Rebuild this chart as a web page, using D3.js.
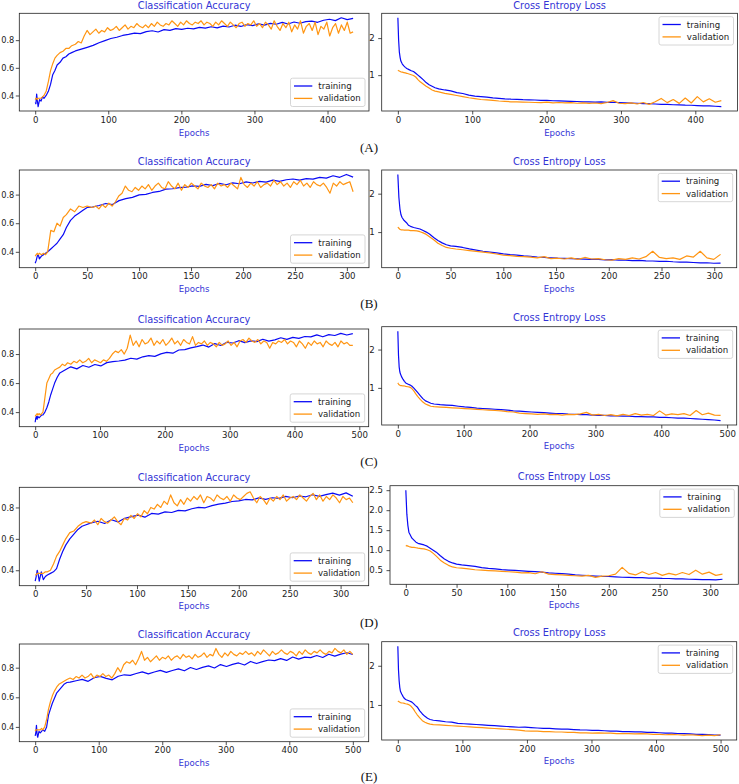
<!DOCTYPE html>
<html><head><meta charset="utf-8">
<script src="https://cdn.jsdelivr.net/npm/d3@7/dist/d3.min.js"></script>
<style>
html,body{margin:0;padding:0;background:#fff;}
svg{display:block;}
text{font-family:"DejaVu Sans",sans-serif;}
</style></head>
<body>
<svg id="chart" width="739" height="784"></svg>
<script>
// ---------------- DATA ----------------
const panelNames = ["A","B","C","D","E"];
const earlyEpochs = [0,1,2,3,4,6,8,10,12,15,18,21,24,27,30,34,38,42,46,50];
const lastEpoch = {A:435, B:306, C:490, D:312, E:500};
const xTicks = {
  A:[0,100,200,300,400], B:[0,50,100,150,200,250,300], C:[0,100,200,300,400,500],
  D:[0,50,100,150,200,250,300], E:[0,100,200,300,400,500]
};
const yTicksAcc = [0.4,0.6,0.8];
const yTicksLoss = [1,2];
const yTicksLossD = [0.5,1.0,1.5,2.0,2.5];
const seriesNames = ["training","validation"];
const titles = ["Classification Accuracy","Cross Entropy Loss"];
const xLabel = "Epochs";

const accTrainA = [0.35,0.34,0.41,0.36,0.32,0.37,0.36,0.39,0.38,0.40,0.43,0.48,0.55,0.58,0.62,0.64,0.67,0.68,0.70,0.71,
 0.722,0.735,0.748,0.762,0.781,0.797,0.812,0.821, 0.834,0.842,0.851,0.847,0.862,0.868,0.859,0.876,
 0.871,0.883,0.878,0.886,0.881,0.892,0.887,0.897, 0.889,0.901,0.895,0.908,0.899,0.912,0.905,0.918,
 0.909,0.921,0.915,0.928,0.917,0.931,0.922,0.934, 0.938,0.929,0.944,0.951,0.941,0.962,0.948,0.958];
const accValA = [0.37,0.38,0.38,0.37,0.38,0.38,0.38,0.39,0.40,0.43,0.50,0.58,0.63,0.67,0.69,0.71,0.72,0.74,0.74,0.76,
 0.77,0.79,0.78,0.83,0.87,0.84,0.86,0.88,0.85,0.87,0.86,0.89,
 0.87,0.88,0.90,0.87,0.89,0.91,0.88,0.90,0.89,0.92,0.90,0.89,
 0.91,0.89,0.92,0.90,0.93,0.91,0.90,0.92,0.91,0.94,0.92,0.90,
 0.93,0.91,0.94,0.92,0.91,0.93,0.92,0.94,0.91,0.93,0.92,0.90,
 0.93,0.91,0.94,0.92,0.90,0.93,0.91,0.89,0.92,0.93,0.90,0.92,
 0.91,0.94,0.90,0.92,0.89,0.93,0.91,0.88,0.94,0.90,0.87,0.92,
 0.89,0.93,0.86,0.91,0.88,0.94,0.85,0.90,0.92,0.87,0.93,0.84,
 0.90,0.88,0.93,0.83,0.89,0.92,0.85,0.91,0.87,0.93,0.85,0.86];
const lossTrainA = [2.55,1.95,1.62,1.48,1.38,1.30,1.25,1.21,1.18,1.15,1.12,1.10,1.05,1.00,0.95,0.88,0.80,0.74,0.70,0.66,
 0.63,0.60,0.575,0.53,0.505,0.46,0.435,0.42, 0.405,0.385,0.372,0.36,0.352,0.348,0.338,0.332,
 0.329,0.321,0.318,0.309,0.304,0.298,0.292,0.289, 0.281,0.279,0.272,0.278,0.263,0.268,0.258,0.251,
 0.247,0.241,0.232,0.229,0.221,0.212,0.209,0.201, 0.198,0.189,0.187,0.178,0.172,0.168,0.161,0.152];
const lossValA = [1.13,1.12,1.11,1.10,1.09,1.08,1.07,1.06,1.05,1.03,1.01,0.99,0.95,0.88,0.82,0.76,0.70,0.65,0.60,0.57,
 0.55,0.51,0.48,0.45,0.42,0.39,0.365,0.342, 0.331,0.318,0.302,0.292,0.281,0.279,0.272,0.268,
 0.262,0.259,0.271,0.252,0.261,0.249,0.258,0.241, 0.252,0.239,0.248,0.232,0.262,0.312,0.241,0.232,
 0.251,0.221,0.262,0.212,0.281,0.372,0.258,0.341, 0.238,0.382,0.249,0.421,0.279,0.362,0.268,0.312];

const accTrainB = [0.32,0.34,0.37,0.38,0.35,0.37,0.38,0.39,0.40,0.42,0.44,0.46,0.49,0.52,0.57,0.62,0.65,0.67,0.69,0.71,
 0.712,0.724,0.738,0.731,0.758,0.772,0.781,0.798, 0.802,0.815,0.822,0.838,0.841,0.849,0.852,0.861,
 0.858,0.871,0.863,0.878,0.869,0.882,0.876,0.889, 0.881,0.893,0.887,0.901,0.892,0.904,0.909,0.901,
 0.912,0.908,0.921,0.915,0.932,0.921,0.941,0.922];
const accValB = [0.37,0.38,0.39,0.38,0.39,0.38,0.39,0.38,0.40,0.55,0.54,0.60,0.58,0.64,0.66,0.70,0.68,0.72,0.71,0.72,
 0.71,0.72,0.70,0.73,0.71,0.74,0.72,0.75,
 0.79,0.81,0.86,0.83,0.82,0.85,0.83,0.86,
 0.84,0.87,0.83,0.86,0.88,0.85,0.84,0.89,
 0.86,0.84,0.88,0.83,0.87,0.85,0.88,0.86,
 0.84,0.88,0.86,0.85,0.87,0.84,0.88,0.86,
 0.87,0.85,0.88,0.86,0.84,0.92,0.87,0.85,
 0.88,0.86,0.89,0.85,0.87,0.88,0.86,0.90,
 0.87,0.89,0.86,0.88,0.85,0.89,0.87,0.90,
 0.86,0.88,0.85,0.89,0.87,0.86,0.88,0.85,
 0.81,0.88,0.86,0.89,0.87,0.88,0.89,0.82];
const lossTrainB = [2.50,1.90,1.60,1.45,1.38,1.30,1.25,1.18,1.15,1.12,1.10,1.08,1.04,1.00,0.95,0.86,0.78,0.72,0.67,0.64,
 0.63,0.60,0.562,0.531,0.502,0.481,0.458,0.432, 0.412,0.401,0.382,0.371,0.352,0.342,0.331,0.322,
 0.318,0.309,0.302,0.298,0.291,0.288,0.279,0.281, 0.272,0.268,0.259,0.262,0.251,0.248,0.239,0.241,
 0.228,0.221,0.219,0.209,0.198,0.202,0.189,0.192];
const lossValB = [1.13,1.10,1.07,1.06,1.06,1.05,1.05,1.05,1.04,1.04,1.03,1.01,0.98,0.94,0.88,0.80,0.71,0.65,0.60,0.58,
 0.56,0.54,0.52,0.50,0.48,0.46,0.43,0.40, 0.39,0.37,0.36,0.35,0.33,0.36,0.31,0.32,
 0.30,0.33,0.29,0.34,0.30,0.31,0.28,0.27, 0.31,0.29,0.33,0.30,0.36,0.50,0.34,0.31,
 0.33,0.29,0.38,0.35,0.50,0.33,0.29,0.42];

const accTrainC = [0.33,0.36,0.37,0.35,0.37,0.36,0.37,0.38,0.38,0.40,0.43,0.47,0.52,0.56,0.60,0.64,0.67,0.68,0.69,0.70,
 0.712,0.698,0.721,0.709,0.728,0.718,0.741,0.748, 0.752,0.758,0.771,0.765,0.781,0.789,0.784,0.801,
 0.812,0.806,0.828,0.831,0.842,0.851,0.862,0.848, 0.872,0.859,0.881,0.876,0.892,0.879,0.891,0.886,
 0.902,0.889,0.898,0.912,0.901,0.915,0.908,0.921, 0.918,0.932,0.919,0.934,0.928,0.942,0.931,0.941];
const accValC = [0.37,0.38,0.38,0.39,0.38,0.39,0.38,0.39,0.40,0.50,0.60,0.63,0.66,0.67,0.69,0.70,0.71,0.73,0.72,0.74,
 0.73,0.75,0.74,0.76,0.74,0.75,0.77,0.74,0.76,0.75,0.74,0.76,
 0.75,0.77,0.80,0.82,0.81,0.83,0.80,0.84,0.93,0.86,0.89,0.85,
 0.90,0.87,0.88,0.91,0.86,0.89,0.87,0.90,0.86,0.88,0.91,0.87,
 0.89,0.86,0.90,0.88,0.87,0.92,0.86,0.88,0.87,0.89,0.86,0.88,
 0.87,0.85,0.88,0.86,0.87,0.89,0.86,0.88,0.85,0.89,0.90,0.88,
 0.91,0.89,0.88,0.90,0.87,0.89,0.88,0.84,0.88,0.87,0.89,0.88,
 0.90,0.87,0.89,0.88,0.85,0.89,0.87,0.84,0.88,0.86,0.89,0.87,
 0.88,0.85,0.89,0.87,0.86,0.88,0.85,0.89,0.87,0.88,0.86,0.86];
const lossTrainC = [2.48,1.85,1.55,1.42,1.36,1.28,1.22,1.17,1.13,1.10,1.08,1.05,1.00,0.94,0.88,0.80,0.72,0.66,0.63,0.60,
 0.58,0.562,0.551,0.542,0.521,0.502,0.492,0.471, 0.462,0.451,0.442,0.432,0.421,0.401,0.392,0.381,
 0.371,0.362,0.352,0.341,0.332,0.331,0.319,0.312, 0.302,0.301,0.291,0.282,0.281,0.272,0.271,0.262,
 0.261,0.252,0.251,0.241,0.242,0.231,0.232,0.221, 0.212,0.209,0.201,0.191,0.182,0.171,0.162,0.148];
const lossValC = [1.13,1.10,1.08,1.07,1.06,1.06,1.05,1.05,1.04,1.03,1.02,0.99,0.93,0.85,0.78,0.70,0.63,0.58,0.55,0.52,
 0.51,0.50,0.49,0.48,0.47,0.46,0.45,0.44, 0.43,0.42,0.41,0.40,0.38,0.37,0.34,0.33,
 0.32,0.31,0.32,0.30,0.31,0.29,0.31,0.30, 0.32,0.36,0.29,0.31,0.28,0.30,0.27,0.31,
 0.28,0.33,0.29,0.31,0.28,0.40,0.29,0.32, 0.30,0.33,0.28,0.41,0.30,0.34,0.29,0.28];

const accTrainD = [0.33,0.36,0.40,0.37,0.33,0.39,0.34,0.36,0.37,0.38,0.39,0.41,0.47,0.52,0.56,0.60,0.63,0.66,0.68,0.69,
 0.702,0.712,0.698,0.722,0.708,0.731,0.742,0.751, 0.738,0.762,0.758,0.772,0.768,0.781,0.778,0.792,
 0.801,0.798,0.812,0.821,0.828,0.838,0.842,0.851, 0.848,0.861,0.852,0.862,0.858,0.871,0.862,0.873,
 0.868,0.881,0.871,0.882,0.891,0.879,0.893,0.872];
const accValD = [0.37,0.37,0.38,0.38,0.38,0.38,0.38,0.39,0.39,0.40,0.44,0.49,0.52,0.56,0.60,0.64,0.65,0.68,0.70,0.71,
 0.70,0.72,0.69,0.73,0.71,0.70,0.72,0.74,
 0.71,0.69,0.73,0.72,0.75,0.73,0.76,0.74,
 0.78,0.76,0.80,0.79,0.82,0.80,0.84,0.82,
 0.88,0.83,0.81,0.85,0.82,0.86,0.84,0.87,
 0.85,0.88,0.83,0.87,0.86,0.84,0.88,0.86,
 0.85,0.87,0.84,0.88,0.86,0.85,0.87,0.89,
 0.90,0.86,0.83,0.87,0.85,0.82,0.86,0.84,
 0.87,0.85,0.88,0.84,0.86,0.87,0.85,0.88,
 0.86,0.84,0.87,0.89,0.85,0.88,0.84,0.87,
 0.85,0.88,0.86,0.83,0.87,0.85,0.86,0.83];
const lossTrainD = [2.50,1.90,1.62,1.45,1.40,1.30,1.25,1.20,1.17,1.15,1.13,1.10,1.05,1.00,0.95,0.86,0.78,0.72,0.68,0.65,
 0.63,0.612,0.592,0.562,0.542,0.531,0.512,0.502, 0.492,0.482,0.471,0.462,0.452,0.431,0.422,0.412,
 0.401,0.382,0.372,0.362,0.352,0.342,0.341,0.332, 0.322,0.321,0.312,0.311,0.302,0.301,0.292,0.291,
 0.282,0.281,0.272,0.271,0.262,0.261,0.258,0.272];
const lossValD = [1.10,1.12,1.10,1.09,1.08,1.07,1.07,1.06,1.05,1.04,1.03,1.01,0.98,0.92,0.85,0.75,0.68,0.62,0.58,0.56,
 0.55,0.53,0.51,0.50,0.49,0.48,0.47,0.46, 0.45,0.43,0.44,0.41,0.46,0.40,0.39,0.38,
 0.37,0.36,0.35,0.37,0.32,0.35,0.36,0.40, 0.57,0.42,0.38,0.46,0.39,0.44,0.37,0.42,
 0.38,0.44,0.39,0.50,0.40,0.45,0.37,0.40];

const accTrainE = [0.34,0.36,0.41,0.35,0.33,0.37,0.36,0.37,0.38,0.37,0.40,0.48,0.52,0.56,0.59,0.63,0.65,0.67,0.69,0.70,
 0.702,0.712,0.721,0.708,0.732,0.741,0.728,0.718, 0.742,0.752,0.748,0.761,0.772,0.758,0.771,0.782,
 0.768,0.781,0.792,0.779,0.801,0.788,0.802,0.812, 0.798,0.821,0.808,0.822,0.832,0.818,0.842,0.828,
 0.841,0.852,0.848,0.861,0.849,0.872,0.858,0.871, 0.868,0.882,0.869,0.891,0.878,0.892,0.901,0.889];
const accValE = [0.37,0.38,0.38,0.38,0.38,0.38,0.38,0.39,0.38,0.40,0.45,0.52,0.57,0.61,0.64,0.67,0.69,0.70,0.71,0.72,
 0.73,0.72,0.74,0.73,0.75,0.73,0.74,0.76,0.73,0.75,0.74,0.76,
 0.74,0.75,0.73,0.76,0.80,0.77,0.82,0.84,0.83,0.85,0.82,0.86,
 0.91,0.85,0.87,0.84,0.86,0.88,0.85,0.87,0.86,0.88,0.85,0.87,
 0.88,0.86,0.89,0.87,0.88,0.86,0.89,0.87,0.88,0.90,0.87,0.89,
 0.88,0.93,0.89,0.87,0.90,0.88,0.91,0.89,0.88,0.90,0.89,0.91,
 0.89,0.90,0.88,0.91,0.89,0.92,0.90,0.88,0.91,0.89,0.90,0.92,
 0.90,0.89,0.91,0.90,0.88,0.91,0.89,0.92,0.90,0.89,0.91,0.90,
 0.92,0.90,0.89,0.91,0.90,0.93,0.91,0.90,0.92,0.89,0.91,0.89];
const lossTrainE = [2.50,1.90,1.62,1.45,1.35,1.28,1.22,1.17,1.14,1.12,1.10,1.08,1.04,0.99,0.95,0.85,0.77,0.71,0.66,0.63,
 0.61,0.592,0.571,0.562,0.532,0.521,0.512,0.501, 0.492,0.481,0.472,0.462,0.451,0.442,0.431,0.432,
 0.421,0.412,0.402,0.401,0.392,0.381,0.382,0.371, 0.362,0.361,0.352,0.351,0.342,0.331,0.332,0.321,
 0.322,0.311,0.312,0.301,0.302,0.291,0.282,0.281, 0.272,0.271,0.262,0.252,0.251,0.242,0.232,0.231];
const lossValE = [1.10,1.09,1.08,1.07,1.06,1.05,1.05,1.04,1.03,1.02,1.00,0.96,0.90,0.82,0.75,0.67,0.60,0.56,0.53,0.51,
 0.50,0.49,0.48,0.47,0.46,0.45,0.44,0.43, 0.42,0.41,0.40,0.39,0.38,0.37,0.36,0.34,
 0.33,0.33,0.32,0.32,0.31,0.31,0.30,0.30, 0.29,0.29,0.28,0.29,0.28,0.28,0.27,0.27,
 0.27,0.26,0.27,0.26,0.25,0.25,0.24,0.25, 0.24,0.23,0.24,0.23,0.22,0.23,0.22,0.24];

const accData = {A:[accTrainA,accValA],B:[accTrainB,accValB],C:[accTrainC,accValC],D:[accTrainD,accValD],E:[accTrainE,accValE]};
const lossData = {A:[lossTrainA,lossValA],B:[lossTrainB,lossValB],C:[lossTrainC,lossValC],D:[lossTrainD,lossValD],E:[lossTrainE,lossValE]};

// ---------------- LAYOUT ----------------
const colors = ["#0a0af5","#ff9512"];
const labelBlue = "#3434d6";
const boxes = {
  A:{L:[19.3,369,13.3,111], R:[381.7,737.5,13.3,111], titleL:8.5, titleR:8.5, epL:136, epR:136, tag:152},
  B:{L:[19.3,369,170,267.7], R:[381.7,736.7,170,267.7], titleL:164.5, titleR:165, epL:292, epR:292, tag:308},
  C:{L:[19.3,368.7,329,426.7], R:[381.7,736.7,326.7,425], titleL:323, titleR:321, epL:451, epR:448.5, tag:466},
  D:{L:[19.3,368.7,487.3,585.7], R:[390,738.3,485.7,584.3], titleL:481, titleR:480, epL:608.5, epR:608, tag:627},
  E:{L:[19.3,368.7,644,741.7], R:[381.7,736.7,641.7,740], titleL:638, titleR:636, epL:766, epR:763.5, tag:781}
};

const svg = d3.select("#chart");

function epochOf(i, n, end){
  if(i < earlyEpochs.length) return earlyEpochs[i];
  const m = n - earlyEpochs.length;
  return 55 + (i - earlyEpochs.length) * (end - 55) / (m - 1);
}

function drawPanel(p, side){
  const b = boxes[p][side];
  const [x0,x1,y0,y1] = b;
  const end = lastEpoch[p];
  const series = side === "L" ? accData[p] : lossData[p];
  const pts = series.map(arr => arr.map((v,i)=>[epochOf(i,arr.length,end), v]));
  const all = pts.flat().map(d=>d[1]);
  const lo = d3.min(all), hi = d3.max(all), pad = (hi-lo)*0.05;
  const x = d3.scaleLinear().domain([-0.05*end, 1.05*end]).range([x0,x1]);
  const y = d3.scaleLinear().domain([lo-pad, hi+pad]).range([y1,y0]);
  const g = svg.append("g");

  const clipId = "clip"+p+side;
  g.append("clipPath").attr("id",clipId).append("rect")
    .attr("x",x0).attr("y",y0).attr("width",x1-x0).attr("height",y1-y0);

  const line = d3.line().x(d=>x(d[0])).y(d=>y(d[1]));
  pts.forEach((s,k)=>{
    g.append("path").attr("d",line(s)).attr("fill","none")
      .attr("stroke",colors[k]).attr("stroke-width",1.2)
      .attr("stroke-linejoin","round").attr("clip-path",`url(#${clipId})`);
  });

  // axes
  const xAx = d3.axisBottom(x).tickValues(xTicks[p]).tickSize(3.5).tickPadding(2).tickFormat(d3.format("d"));
  const yt = side === "L" ? yTicksAcc : (p === "D" ? yTicksLossD : yTicksLoss);
  const yf = side === "L" ? d3.format(".1f") : (p === "D" ? d3.format(".1f") : d3.format("d"));
  const yAx = d3.axisLeft(y).tickValues(yt).tickSize(3.5).tickPadding(side==="L"?1.5:3.5).tickFormat(yf);
  const gx = g.append("g").attr("transform",`translate(0,${y1})`).call(xAx);
  const gy = g.append("g").attr("transform",`translate(${x0},0)`).call(yAx);
  [gx,gy].forEach(a=>{
    a.select(".domain").remove();
    a.selectAll(".tick line").attr("stroke","#222").attr("stroke-width",0.8);
    a.selectAll(".tick text").attr("fill","#222").style("font-size","8.6px").style("font-family","DejaVu Sans");
  });
  if(side==="L") gy.selectAll(".tick text").style("font-size","8.2px");

  // frame
  g.append("rect").attr("x",x0).attr("y",y0).attr("width",x1-x0).attr("height",y1-y0)
    .attr("fill","none").attr("stroke","#222").attr("stroke-width",0.8);

  // title + x label
  g.append("text").attr("x",(x0+x1)/2).attr("y", side==="L"?boxes[p].titleL:boxes[p].titleR)
    .attr("text-anchor","middle").attr("fill",labelBlue).style("font-size","9.8px")
    .text(side==="L"?titles[0]:titles[1]);
  g.append("text").attr("x",(x0+x1)/2).attr("y", side==="L"?boxes[p].epL:boxes[p].epR)
    .attr("text-anchor","middle").attr("fill",labelBlue).style("font-size","8.6px").text(xLabel);

  // legend
  const lw = 74.5, lh = 28.3;
  const lx = x1 - 4 - lw;
  const ly = side==="L" ? y1 - 4.5 - lh : y0 + 3.4;
  const lg = g.append("g").attr("transform",`translate(${lx},${ly})`);
  lg.append("rect").attr("width",lw).attr("height",lh).attr("rx",2).attr("ry",2)
    .attr("fill","white").attr("fill-opacity",0.85).attr("stroke","#cccccc").attr("stroke-width",0.8);
  seriesNames.forEach((nm,k)=>{
    const cy = 7.8 + k*12.4;
    lg.append("line").attr("x1",3.5).attr("x2",21.8).attr("y1",cy).attr("y2",cy)
      .attr("stroke",colors[k]).attr("stroke-width",1.3);
    lg.append("text").attr("x",27.8).attr("y",cy+3.1).attr("fill","#222")
      .style("font-size","8.6px").text(nm);
  });
}

panelNames.forEach(p=>{
  drawPanel(p,"L");
  drawPanel(p,"R");
  svg.append("text").attr("x",369).attr("y",boxes[p].tag).attr("text-anchor","middle")
    .style("font-family","'Liberation Serif','Times New Roman',serif").style("font-size","13px")
    .attr("fill","#111").text(`(${p})`);
});
</script>
</body></html>
